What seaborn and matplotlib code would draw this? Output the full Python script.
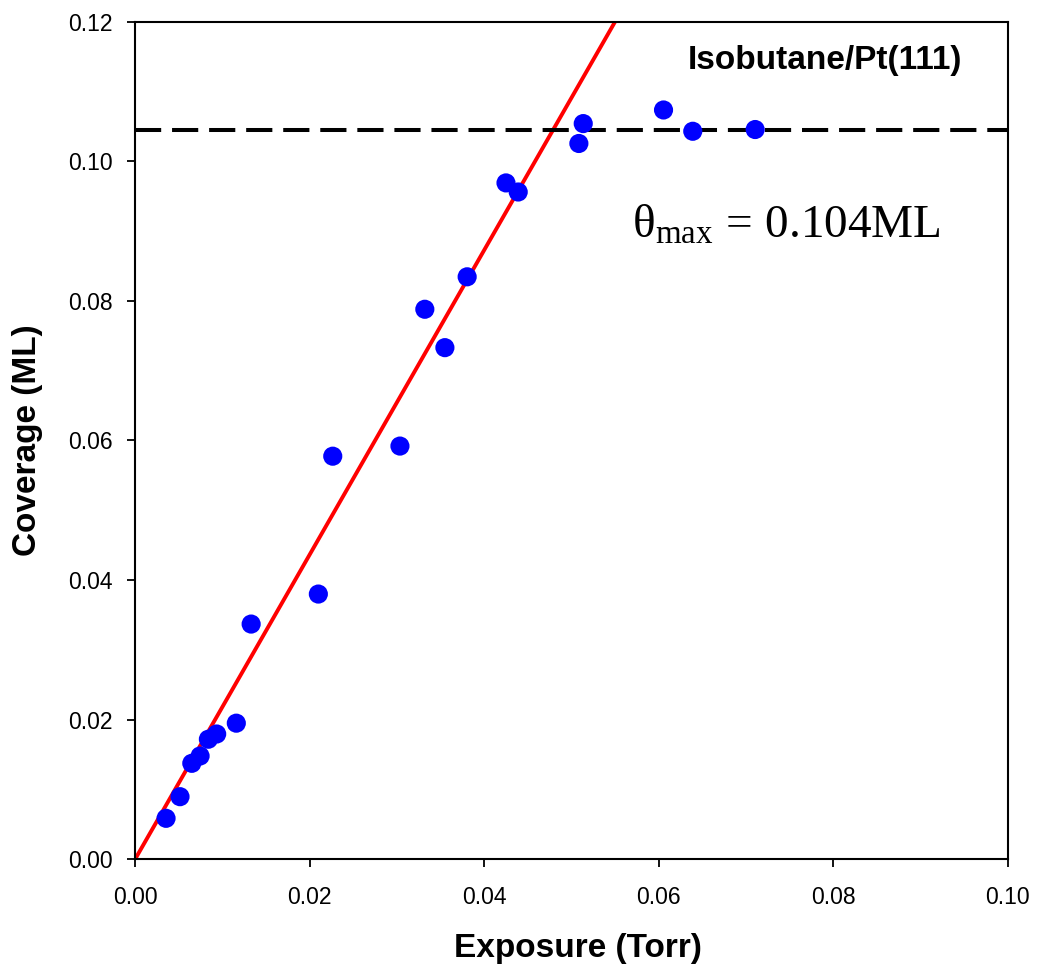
import matplotlib
matplotlib.use("Agg")
import matplotlib.pyplot as plt
import seaborn as sns
import pandas as pd

# ---- data ----
exposure = [0.00355, 0.00515, 0.00650, 0.00745, 0.00840, 0.00935, 0.01160,
            0.01330, 0.02100, 0.02265, 0.03035, 0.03320, 0.03550, 0.03805,
            0.04250, 0.04390, 0.05085, 0.05135, 0.06055, 0.06390, 0.07105]
coverage = [0.00587, 0.00897, 0.01375, 0.01480, 0.01720, 0.01795, 0.01950,
            0.03370, 0.03800, 0.05775, 0.05920, 0.07880, 0.07330, 0.08345,
            0.09690, 0.09560, 0.10255, 0.10540, 0.10735, 0.10430, 0.10455]
fit_x = [0.0, 0.0550]
fit_y = [0.0, 0.1200]
theta_max = 0.1045
x_ticks = [0.00, 0.02, 0.04, 0.06, 0.08, 0.10]
y_ticks = [0.00, 0.02, 0.04, 0.06, 0.08, 0.10, 0.12]
x_label = "Exposure (Torr)"
y_label = "Coverage (ML)"
system_label = "Isobutane/Pt(111)"
theta_label = r"$\mathrm{\theta_{max}\,=\,0.104ML}$"

df = pd.DataFrame({"exposure": exposure, "coverage": coverage})
fit_df = pd.DataFrame({"x": fit_x, "y": fit_y})

sns.set_style("ticks")
plt.rcParams["font.family"] = ["Liberation Sans", "DejaVu Sans"]
plt.rcParams["text.color"] = "black"
plt.rcParams["axes.labelcolor"] = "black"
plt.rcParams["xtick.color"] = "black"
plt.rcParams["ytick.color"] = "black"
plt.rcParams["mathtext.fontset"] = "custom"
plt.rcParams["mathtext.rm"] = "Liberation Serif"
plt.rcParams["mathtext.it"] = "Liberation Serif:italic"
plt.rcParams["mathtext.bf"] = "Liberation Serif:bold"

fig = plt.figure(figsize=(10.39, 9.68), dpi=100)
ax = fig.add_axes([0.130, 0.1123, 0.840, 0.8653])

sns.lineplot(data=fit_df, x="x", y="y", ax=ax, color="#FF0000", linewidth=2.8)
ax.axhline(theta_max, color="black", linewidth=2.9, linestyle=(0, (6.5, 2.7)))
sns.scatterplot(data=df, x="exposure", y="coverage", ax=ax, s=190,
                color="#0000FF", edgecolor="none", linewidth=0, zorder=3)

ax.set_xlim(0, 0.10)
ax.set_ylim(0, 0.12)
ax.set_xticks(x_ticks)
ax.set_yticks(y_ticks)
ax.set_xticklabels([f"{v:.2f}" for v in x_ticks])
ax.set_yticklabels([f"{v:.2f}" for v in y_ticks])

for side in ["top", "right", "bottom", "left"]:
    ax.spines[side].set_visible(True)
    ax.spines[side].set_linewidth(1.5)
    ax.spines[side].set_color("black")

ax.tick_params(axis="both", direction="out", length=6, width=1.3,
               labelsize=16.5, top=False, right=False, colors="black")
ax.tick_params(axis="x", pad=13)
ax.tick_params(axis="y", pad=10)

ax.set_xlabel(x_label, fontsize=24, fontweight="bold", color="black")
ax.set_ylabel(y_label, fontsize=24, fontweight="bold", color="black")
ax.xaxis.set_label_coords(0.507, -0.088)
ax.yaxis.set_label_coords(-0.105, 0.5)

ax.text(0.790, 0.9435, system_label, transform=ax.transAxes, fontsize=24,
        fontweight="bold", ha="center", va="baseline", color="black")
ax.text(0.569, 0.7418, theta_label, transform=ax.transAxes, fontsize=34,
        ha="left", va="baseline", color="black")

fig.savefig("out.png", dpi=100)
